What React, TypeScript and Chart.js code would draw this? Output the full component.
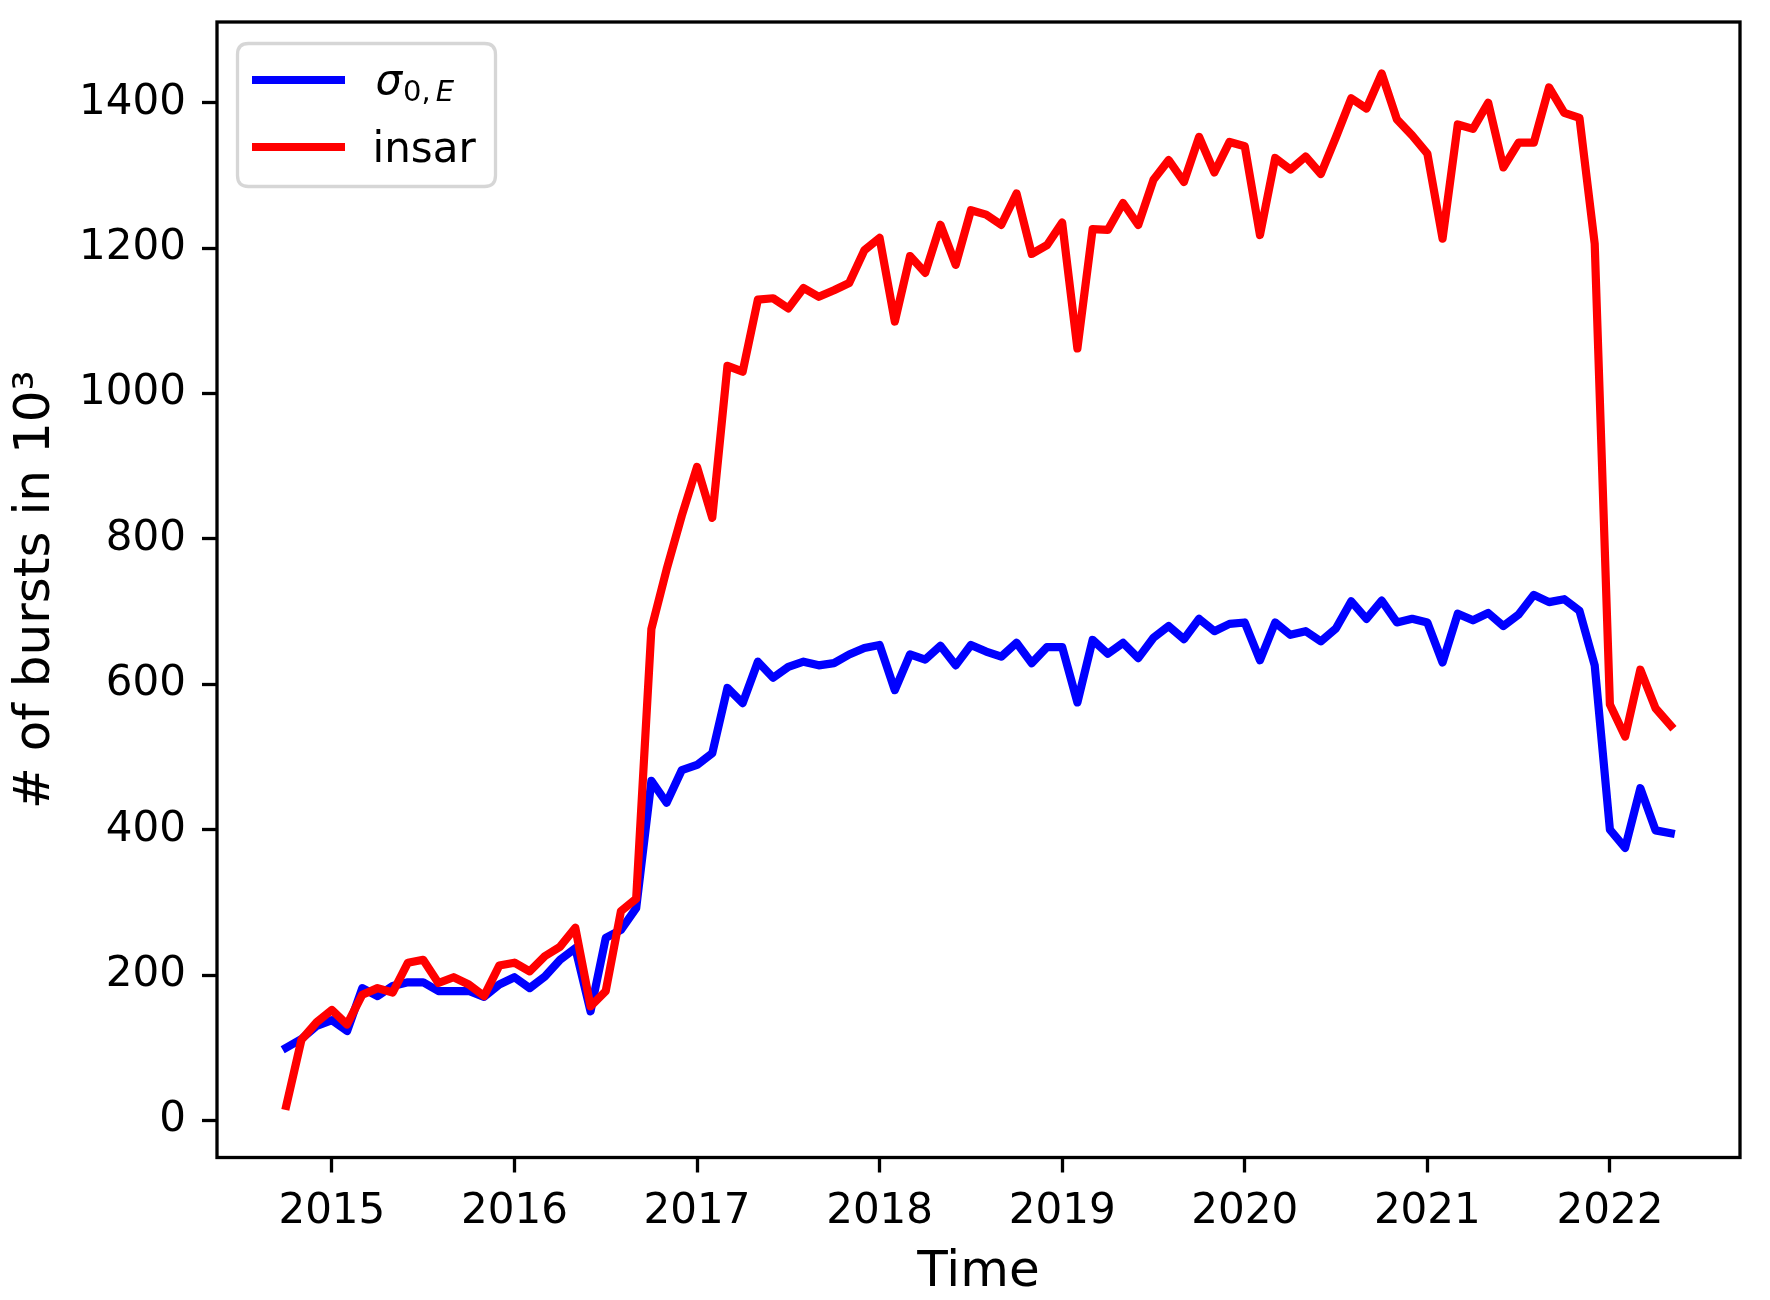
import React, { useEffect, useRef } from "react";
import { Chart, registerables } from "chart.js";

Chart.register(...registerables);

// Monthly acquisition dates (categories)
const months: string[] = [
  "2014-10", "2014-11", "2014-12",
  "2015-01", "2015-02", "2015-03", "2015-04", "2015-05", "2015-06", "2015-07", "2015-08", "2015-09", "2015-10", "2015-11", "2015-12",
  "2016-01", "2016-02", "2016-03", "2016-04", "2016-05", "2016-06", "2016-07", "2016-08", "2016-09", "2016-10", "2016-11", "2016-12",
  "2017-01", "2017-02", "2017-03", "2017-04", "2017-05", "2017-06", "2017-07", "2017-08", "2017-09", "2017-10", "2017-11", "2017-12",
  "2018-01", "2018-02", "2018-03", "2018-04", "2018-05", "2018-06", "2018-07", "2018-08", "2018-09", "2018-10", "2018-11", "2018-12",
  "2019-01", "2019-02", "2019-03", "2019-04", "2019-05", "2019-06", "2019-07", "2019-08", "2019-09", "2019-10", "2019-11", "2019-12",
  "2020-01", "2020-02", "2020-03", "2020-04", "2020-05", "2020-06", "2020-07", "2020-08", "2020-09", "2020-10", "2020-11", "2020-12",
  "2021-01", "2021-02", "2021-03", "2021-04", "2021-05", "2021-06", "2021-07", "2021-08", "2021-09", "2021-10", "2021-11", "2021-12",
  "2022-01", "2022-02", "2022-03", "2022-04", "2022-05",
];

// sigma_{0,E} series (thousands of bursts)
const sigmaValues: number[] = [
  100, 112, 130,
  138, 123, 182, 171, 185, 190, 190, 178, 178, 178, 170, 187,
  197, 182, 198, 221, 237, 150, 251, 262, 292, 467, 437, 482,
  489, 505, 595, 574, 631, 609, 624, 631, 626, 629, 641, 650,
  654, 592, 641, 634, 653, 626, 654, 645, 638, 657, 629, 651,
  651, 575, 661, 642, 657, 636, 664, 680, 662, 690, 673, 683,
  685, 633, 685, 668, 673, 659, 677, 714, 690, 715, 685, 690,
  685, 630, 697, 688, 698, 680, 696, 723, 713, 717, 701, 626,
  400, 375, 457, 399, 395,
];

// insar series (thousands of bursts)
const insarValues: number[] = [
  20, 111, 135,
  152, 132, 173, 182, 176, 217, 221, 189, 197, 187, 171, 213,
  217, 205, 226, 239, 265, 157, 178, 288, 305, 676, 758, 832,
  899, 829, 1038, 1030, 1129, 1131, 1117, 1145, 1133, 1142, 1152, 1197,
  1214, 1099, 1189, 1166, 1232, 1177, 1252, 1246, 1232, 1275, 1192, 1204,
  1235, 1062, 1226, 1225, 1262, 1232, 1294, 1321, 1291, 1353, 1304, 1346,
  1340, 1218, 1324, 1308, 1326, 1302, 1353, 1406, 1392, 1440, 1377, 1355,
  1330, 1213, 1370, 1364, 1400, 1311, 1345, 1345, 1421, 1386, 1379, 1206,
  572, 528, 620, 567, 543,
];

const xTicks: number[] = [2015, 2016, 2017, 2018, 2019, 2020, 2021, 2022];
const yTicks: number[] = [0, 200, 400, 600, 800, 1000, 1200, 1400];

const insarLabel = "insar";
const xTitle = "Time";
const yTitle = "# of bursts in 10\u00b3";

const BLUE = "#0000ff";
const RED = "#ff0000";
const FONT = '"DejaVu Sans", "Liberation Sans", sans-serif';

function monthToYear(m: string): number {
  const [y, mo] = m.split("-").map(Number);
  return y + (mo - 1) / 12;
}

const xs = months.map(monthToYear);
const xMinData = Math.min(...xs);
const xMaxData = Math.max(...xs);
const xPad = (xMaxData - xMinData) * 0.05;
const allY = [...sigmaValues, ...insarValues];
const yMinData = Math.min(...allY);
const yMaxData = Math.max(...allY);
const yPad = (yMaxData - yMinData) * 0.05;

const framePlugin = {
  id: "frameAndLegend",
  afterDraw(chart: any) {
    const { ctx, chartArea: a } = chart;
    ctx.save();
    // spines
    ctx.strokeStyle = "#000";
    ctx.lineWidth = 3.3;
    ctx.strokeRect(a.left, a.top, a.right - a.left, a.bottom - a.top);

    // legend box
    const lx = a.left + 20.5;
    const ly = a.top + 21.5;
    const lw = 258;
    const lh = 143;
    const r = 11;
    ctx.beginPath();
    ctx.moveTo(lx + r, ly);
    ctx.lineTo(lx + lw - r, ly);
    ctx.quadraticCurveTo(lx + lw, ly, lx + lw, ly + r);
    ctx.lineTo(lx + lw, ly + lh - r);
    ctx.quadraticCurveTo(lx + lw, ly + lh, lx + lw - r, ly + lh);
    ctx.lineTo(lx + r, ly + lh);
    ctx.quadraticCurveTo(lx, ly + lh, lx, ly + lh - r);
    ctx.lineTo(lx, ly + r);
    ctx.quadraticCurveTo(lx, ly, lx + r, ly);
    ctx.closePath();
    ctx.fillStyle = "rgba(255,255,255,0.8)";
    ctx.fill();
    ctx.strokeStyle = "#d6d6d6";
    ctx.lineWidth = 3.3;
    ctx.stroke();

    // handles
    const hx1 = lx + 14.5;
    const hx2 = lx + 107.5;
    ctx.lineWidth = 8.2;
    ctx.lineCap = "butt";
    ctx.strokeStyle = BLUE;
    ctx.beginPath();
    ctx.moveTo(hx1, ly + 36.5);
    ctx.lineTo(hx2, ly + 36.5);
    ctx.stroke();
    ctx.strokeStyle = RED;
    ctx.beginPath();
    ctx.moveTo(hx1, ly + 103.5);
    ctx.lineTo(hx2, ly + 103.5);
    ctx.stroke();

    // labels
    const tx = lx + 135;
    ctx.fillStyle = "#000";
    ctx.textBaseline = "alphabetic";
    ctx.textAlign = "left";
    ctx.font = `italic 42px ${FONT}`;
    ctx.fillText("\u03c3", tx + 3, ly + 50);
    let sx = tx + 3 + ctx.measureText("\u03c3").width + 1;
    ctx.font = `29px ${FONT}`;
    ctx.fillText("0,", sx, ly + 57);
    sx += ctx.measureText("0,").width + 5;
    ctx.font = `italic 29px ${FONT}`;
    ctx.fillText("E", sx, ly + 57);

    ctx.font = `42px ${FONT}`;
    ctx.fillText(insarLabel, tx, ly + 118.5);
    ctx.restore();
  },
};

export default function App() {
  const canvasRef = useRef<HTMLCanvasElement | null>(null);

  useEffect(() => {
    document.body.style.margin = "0";
    const canvas = canvasRef.current;
    if (!canvas) return;
    const chart = new Chart(canvas, {
      type: "line",
      data: {
        datasets: [
          {
            label: "sigma0E",
            data: xs.map((x, i) => ({ x, y: sigmaValues[i] })),
            borderColor: BLUE,
            backgroundColor: BLUE,
            borderWidth: 8.2,
            pointRadius: 0,
            tension: 0,
            borderJoinStyle: "round",
            borderCapStyle: "square",
            order: 1,
          },
          {
            label: insarLabel,
            data: xs.map((x, i) => ({ x, y: insarValues[i] })),
            borderColor: RED,
            backgroundColor: RED,
            borderWidth: 8.2,
            pointRadius: 0,
            tension: 0,
            borderJoinStyle: "round",
            borderCapStyle: "square",
            order: 0,
          },
        ],
      },
      options: {
        responsive: false,
        animation: false,
        devicePixelRatio: 1,
        layout: { padding: { top: 22, right: 30, left: 0, bottom: 0 } },
        plugins: {
          legend: { display: false },
          tooltip: { enabled: false },
        },
        scales: {
          x: {
            type: "linear",
            min: xMinData - xPad,
            max: xMaxData + xPad,
            afterBuildTicks: (scale: any) => {
              scale.ticks = xTicks.map((v) => ({ value: v }));
            },
            afterFit: (scale: any) => {
              scale.height = 142.5;
              scale.paddingLeft = 0;
              scale.paddingRight = 0;
            },
            ticks: {
              autoSkip: false,
              maxRotation: 0,
              minRotation: 0,
              padding: 14,
              color: "#000",
              font: { family: FONT, size: 42 },
              callback: (v: any) => String(v),
            },
            grid: {
              drawOnChartArea: false,
              drawTicks: true,
              tickLength: 15,
              tickWidth: 3.3,
              tickColor: "#000",
              color: "#000",
            },
            border: { display: false },
            title: {
              display: true,
              text: xTitle,
              color: "#000",
              font: { family: FONT, size: 50, lineHeight: 1 },
              padding: { top: 0, bottom: 1.5 },
            },
          },
          y: {
            type: "linear",
            min: yMinData - yPad,
            max: yMaxData + yPad,
            afterBuildTicks: (scale: any) => {
              scale.ticks = yTicks.map((v) => ({ value: v }));
            },
            afterFit: (scale: any) => {
              scale.width = 217;
              scale.paddingTop = 0;
              scale.paddingBottom = 0;
            },
            ticks: {
              autoSkip: false,
              padding: 16,
              color: "#000",
              font: { family: FONT, size: 42 },
              callback: (v: any) => String(v),
            },
            grid: {
              drawOnChartArea: false,
              drawTicks: true,
              tickLength: 15,
              tickWidth: 3.3,
              tickColor: "#000",
              color: "#000",
            },
            border: { display: false },
            title: {
              display: true,
              text: yTitle,
              color: "#000",
              font: { family: FONT, size: 50, lineHeight: 1 },
              padding: { top: 11, bottom: 0 },
            },
          },
        },
      },
      plugins: [framePlugin],
    } as any);
    return () => chart.destroy();
  }, []);

  return (
    <div style={{ width: 1770, height: 1300, background: "#fff" }}>
      <canvas ref={canvasRef} width={1770} height={1300} style={{ display: "block" }} />
    </div>
  );
}
